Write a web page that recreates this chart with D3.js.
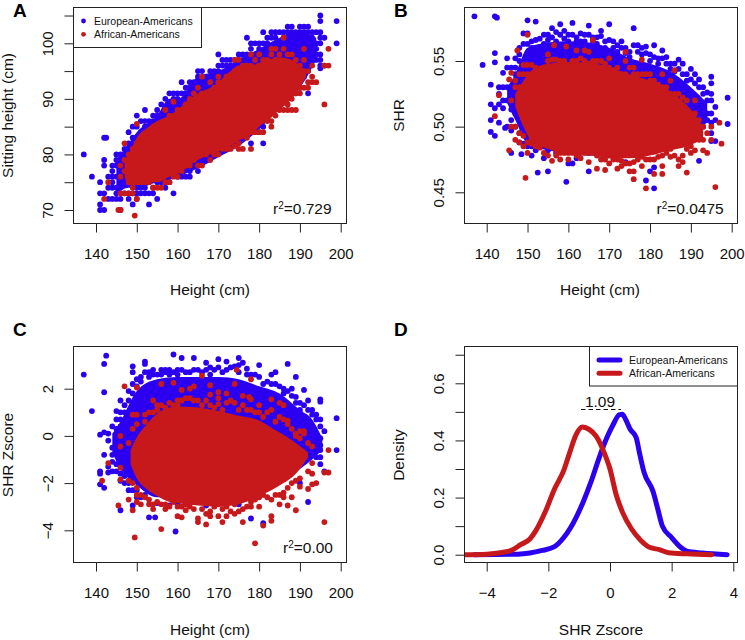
<!DOCTYPE html>
<html><head><meta charset="utf-8">
<script src="https://cdn.jsdelivr.net/npm/d3@7/dist/d3.min.js"></script>
<style>
html,body{margin:0;padding:0;background:#fff}
svg{display:block}
text{font-family:"Liberation Sans",Arial,sans-serif;fill:#111}
</style></head><body><svg id="c" width="745" height="640"></svg>
<script>
const seriesNames = ["European-Americans","African-Americans"];
const heightTicks = [140,150,160,170,180,190,200];
const sittingTicks = [70,75,80,85,90,95,100,105];
const shrTicks = [0.45,0.50,0.55];
const zTicks = [-4,-2,0,2];
const densityTicks = [0,0.1,0.2,0.3,0.4,0.5,0.6,0.7];
const zAxisTicks = [-4,-2,0,2,4];

// Solid core of each cloud, as [height, low, high]; the points below form its rim.
const aBodyEA = [[145,73,79],[148,74,82],[150,74,84],[155,75,87],[158,75.5,90],[160,76,90],[165,77.5,94],[170,79.5,95],[175,81.5,97],[180,84.5,99],[185,88.5,101],[190,92,102],[194,97,101]];
const aBodyAA = [[147,76,79],[148,74.5,80],[150,74.5,83],[153,75,85],[155,75,86],[158,76,87],[160,76.5,88],[163,78,90],[165,79,91],[168,80,92],[170,80.5,93],[173,81.5,95],[175,82.5,96],[178,83.5,96],[180,85,96.5],[182,86,97],[185,88,97.5],[188,90,97],[190,92,96],[191.5,94,95]];
// Points by height column: [height, value, value, ...]
const aPointsEA = [[137,80],[139,76],[141,75,73,71,70],[142,83,79,78,73,70],[142.5,83],[143,74,72,76],[144,78,77,76,75,74,72],[145,80,79,78,76,74,73,72],[146,80,79,77,75,74,72,70],[147,81,79,75,73],[148,84,82,80,78,75,73,72],[149,85,83,81,75,73,71],[150,87,85,83,74,73,72],[151,86,84,74,73],[152,88,86,85,74,73],[153,86,85,75,73,71],[154,87,86,74,73],[155,88,87,75,72],[156,89,87,75],[157,90,88,75,74],[158,91,89,76,75],[159,91,90,73],[160,91,90,76],[161,93,91,77,76],[162,92,91,76],[163,93,92,77,76],[164,93,92,78],[165,95,94,78,77],[166,95,93],[167,94,93,79],[168,94,95],[169,95,94],[170,98,96,95],[171,96,97],[172,97,96],[173,96,97],[174,97,96],[175,98,97],[176,98,97],[177,101,98],[178,100,99,86,82],[179,100,98],[180,100,99,84],[181,102,100,85,82],[182,100,101],[183,102,101],[184,102,101],[185,102,100],[186,102,101],[187,103,102],[188,103,102],[189,102,101,91],[190,103,102,92],[191,103,102,94],[192,103,102,96,95,91],[193,102,101,97],[194,102,100,99,98,97],[195,105,104,102,101,100,98,97,96,95.5],[196,101,96],[199,104,100]];
const aPointsAA = [[142,72],[143,75],[145.5,70],[146,78,76,73,70],[147,82,79,77,73],[148,80,78,75,73],[149,81,79,74,73],[149.5,69],[150,85.5,82,80,75,72],[151,82,75],[152,83,75],[153,84,83,75],[154,85,74],[155,85,74],[156,85.5,74],[157,88,86,75],[158,87,75],[159,89.5,87,76],[160,88,76],[161,88,77],[162,89,78],[163,90,78],[164,91,79],[165,92,78],[166,94,91,78],[167,91,80],[168,93,91,79],[169,92,80],[170,94,93,80],[171,92,81],[172,94,92,81],[173,94,81],[174,97,95,81.5],[175,97,95,82,81],[176,96,81],[177,96,83],[178,98,96,84,81],[179,97,84],[180,98,96,84],[181,97,84],[182,97,86],[183,99,98,86,85],[184,99,97,87],[185,98,88],[186,101,99,88],[187,98,89,88],[188,98,96,90,88],[189,97,91,88],[190,96,92,91],[191,99,97,95,92],[192,95,93,92],[193,96,94,93],[194,93],[196,96,89],[197,99,96]];

const bBodyEA = [[145,0.518,0.53],[147,0.505,0.54],[150,0.487,0.56],[155,0.482,0.564],[160,0.48,0.565],[165,0.478,0.564],[170,0.478,0.56],[175,0.478,0.552],[180,0.482,0.548],[185,0.488,0.542],[190,0.496,0.53],[194,0.503,0.518]];
const bBodyAA = [[147,0.515,0.525],[149,0.5,0.535],[151,0.489,0.543],[155,0.483,0.548],[160,0.48,0.549],[165,0.479,0.549],[170,0.476,0.545],[175,0.476,0.54],[180,0.478,0.535],[185,0.482,0.527],[190,0.486,0.513],[193,0.492,0.5]];
const bPointsEA = [[137,0.584],[139,0.547],[141,0.532,0.517,0.505,0.496],[142,0.584,0.556,0.549,0.514,0.493],[142.5,0.583],[143,0.53,0.525,0.517,0.503],[144,0.541,0.53,0.52,0.514],[144.5,0.499],[145,0.552,0.545,0.53,0.52,0.5],[146,0.545,0.53,0.52,0.513,0.505,0.497,0.48],[147,0.552,0.545,0.54,0.525,0.51,0.5],[148,0.56,0.555,0.55,0.53,0.515,0.495,0.488],[148.5,0.479],[149,0.571,0.563,0.5,0.487],[150,0.581,0.571,0.563,0.49,0.485],[151,0.565,0.56,0.485,0.478],[152,0.58,0.566,0.482],[152.5,0.465],[153,0.567,0.56],[154,0.57,0.563,0.476],[155,0.57,0.566,0.482,0.466],[156,0.575,0.568],[157,0.572,0.565,0.48],[158,0.578,0.57],[159,0.573,0.567],[159.5,0.458],[160,0.57,0.565,0.472],[161,0.579,0.57,0.472],[162,0.568,0.565,0.476],[163,0.571,0.565],[164,0.57,0.565],[165,0.577,0.57,0.48,0.466],[166,0.568,0.565],[167,0.568,0.563],[168,0.573,0.569],[169,0.565,0.56],[170,0.578,0.566],[171,0.565,0.56,0.48],[172,0.562,0.557],[173,0.565,0.56],[174,0.56,0.556,0.473],[175,0.557,0.553],[176,0.575,0.562],[177,0.562,0.557],[178,0.56,0.555],[179,0.561,0.556,0.481,0.459],[180,0.555,0.55,0.466],[181,0.562,0.553,0.469,0.453],[182,0.552,0.548],[183,0.558,0.552],[184,0.553,0.548],[185,0.548,0.544],[186,0.548,0.542],[187,0.551,0.544],[188,0.548,0.54],[189,0.54,0.535],[190,0.544,0.536,0.495],[191,0.54,0.533,0.495],[192,0.536,0.53,0.5,0.495,0.474],[193,0.53,0.525,0.505,0.5],[194,0.526,0.52,0.51,0.505],[195,0.538,0.533,0.525,0.52,0.51,0.503,0.495,0.489],[196,0.515,0.505,0.489],[199,0.522,0.502]];
const bPointsAA = [[142,0.508],[143,0.524],[145.5,0.536,0.482],[146,0.541,0.52,0.5],[147,0.535,0.53,0.5,0.49],[147.5,0.558],[148,0.54,0.53,0.495,0.488],[149,0.547,0.54,0.493,0.485],[149.5,0.461],[150,0.57,0.547,0.54,0.488,0.48],[151,0.547,0.54,0.491,0.487],[152,0.545,0.538,0.485],[153,0.54,0.484],[154,0.545,0.48],[155,0.555,0.55,0.545,0.478],[156,0.551,0.545,0.474],[156.5,0.562],[157,0.551,0.482,0.478],[158,0.55,0.48,0.475],[159,0.55,0.48],[159.5,0.561],[160,0.547,0.48,0.475],[161,0.55,0.545,0.48],[162,0.558,0.55,0.478],[163,0.552,0.48,0.476],[164,0.558,0.55,0.48],[165,0.557,0.548,0.48,0.473],[166,0.566,0.55,0.48],[167,0.55,0.545,0.478,0.468],[168,0.55,0.545,0.475],[169,0.548,0.475,0.467],[170,0.552,0.545,0.478,0.472],[171,0.543,0.475],[172,0.545,0.54,0.475,0.468],[173,0.54,0.474,0.47],[174,0.557,0.55,0.54,0.472],[175,0.545,0.472,0.466],[176,0.545,0.54,0.473,0.466,0.46],[177,0.54,0.475],[178,0.551,0.54,0.477,0.47],[179,0.54,0.475,0.453],[180,0.54,0.535,0.475],[181,0.535,0.475,0.464],[182,0.532,0.477],[183,0.54,0.53,0.478,0.47,0.464],[184,0.53,0.48],[185,0.535,0.525,0.483,0.477],[186,0.543,0.525,0.478],[187,0.525,0.475,0.47],[188,0.522,0.478,0.473],[189,0.52,0.483,0.465],[190,0.51,0.485,0.48],[191,0.52,0.51,0.49,0.482],[192,0.505,0.49],[193,0.5,0.49,0.482],[194,0.495,0.48],[195,0.5,0.49],[196,0.454],[197,0.503],[197.5,0.487]];

const cBodyEA = [[144,-0.7,0.1],[146,-1.4,0.6],[148,-1.8,1.3],[150,-2.1,1.9],[155,-2.6,2.4],[160,-2.6,2.5],[165,-2.6,2.5],[170,-2.6,2.5],[175,-2.6,2.4],[180,-2.3,2.1],[185,-1.9,1.8],[190,-1.4,1.1],[193,-1,0.7],[195.5,-0.6,-0.1]];
const cBodyAA = [[148.5,-1.2,-0.6],[150,-1.8,-0.05],[152,-2.2,0.4],[155,-2.55,0.95],[158,-2.8,1.2],[160,-2.85,1.25],[165,-2.95,1.2],[170,-3,1.05],[175,-2.9,0.85],[180,-2.55,0.65],[183,-2.3,0.35],[186,-2,0.05],[189,-1.6,-0.3],[192,-0.9,-0.7]];
const cPointsEA = [[137,2.6],[139,1.05],[141,0.05,-1.5,-1.6,-2.05],[142,3.05,1.85,0.15,-0.8,-2.2],[142.5,3.4],[143,0.1,-0.2,-1.3,-1.55],[144,0.4,-0.5,-0.8,-1.1,-1.5],[145,1.05,0.7,0.3,-0.1,-1.2,-1.5],[146,1.5,1,0.7,0.4,-1.6,-1.9,-3.15],[147,1.3,1,-1.7,-2],[148,1.9,1.5,-2,-2.3],[149,2.95,2.7,2.2,1.8,-2.3,-2.95],[150,2.4,2.1,-2.3,-2.6],[151,2.5,2.3,-2.6],[152,3.15,3.05,2.7,-2.2,-2.5],[153,2.7,2.5,-3.45],[154,2.8,2.6],[154.5,-3.45],[155,2.6,-2.85],[156,2.8,2.6],[157,2.8,2.7],[158,2.8,2.6,-2.95],[159,3.45,2.7],[159.5,-4.05],[160,2.8,2.6,-2.85],[161,3.3,2.8],[162,2.7,-2.8],[163,2.7],[164,3.3,2.8],[165,2.8],[166,2.7],[167,3.1,2.8,-2.95],[168,2.9,2.6],[169,2.8],[170,3.25,2.9],[171,2.7],[172,3.15,2.8],[173,2.9],[174,2.95],[175,3.3,3,2.7,-2.9],[176,3.1],[177,2.85,2.6],[178,2.6,-3.5],[179,2.6],[180,3,2.5],[181,2.2,-3.7],[182,2.3],[183,2.6,2.2],[184,2.7,2.2],[185,2.1],[186,2,1.8],[187,3.05,1.9],[188,2,1.7],[189,2.5,1.65,1.4],[190,1.4,1.1,-2],[191,1.95,1.3],[192,1.5,1.1,-2.8],[193,1.1,0.9],[194,0.9,0.7,-0.4,-0.9],[195,1.55,1.45,0.7,0.4,-0.1,-0.4,-0.6,-0.9,-1.2],[196,0.2,-1.5],[199,0.75,-0.6]];
const cPointsAA = [[141.5,-1.9],[143,-1.15],[145.5,-2.95],[146,0,-0.45,-1.35,-1.85],[147,2.1],[148,-0.3,-1.9,-2.7],[149,0.9,0.3,-2,-3.15],[149.5,-4.3],[150,2.05,0.9,0.5,-2.2,-2.5,-2.8],[151,-2.5,-2.9],[152,0.9,0.6,-2.6],[153,1,-2.7,-2.9],[154,1.5,1,-2.9,-3.1],[155,1.3,1.1,-2.8],[156,2.2,1.3,-2.9,-3.95],[157,1.2,-2.9,-3.1],[158,1.4,-3],[159,2.25,1.3,-2.8],[160,1.5,1.3,-3,-3.4],[161,1.95,1.5,-3,-3.45],[162,1.6,-2.9,-3.15],[163,2,1.6,-3],[164,2.1,1.5,-3.1],[165,1.5,-3.5,-3.65],[166,2.55,1.3,-3.1],[167,1.5,-3.3,-3.75],[168,2.15,1.75,1.3,-3.2,-3.4],[169,1.2,-3],[170,1.85,1.6,1.35,-2.9,-3.4],[171,1.1,-3.1,-3.65],[172,1.8,1.4,-3,-3.4],[173,1.5,-3.2],[174,2.2,1.4,-2.9,-3.3],[174.5,2.8],[175,1.1,-3.2],[176,1.7,1.3,-3.1,-3.65],[177,1.1,-3],[177.5,1.65],[178,2.4,1.55,1.1,-2.8,-3],[179,1,-2.7,-4.55],[180,1.3,1,-2.6,-3],[181,0.8,-2.5,-3.8],[182,1,-2.6],[183,1.55,1.1,-2.7,-3.4,-3.6],[184,0.6,-2.5],[185,1.4,0.8,-2.5,-2.9],[186,1.3,0.7,-2.4,-2.6],[187,0.65,0.5,-2.2,-2.95],[188,0.3,-2,-2.6],[189,0.1,0,-1.9,-3.15],[190,0.2,-0.1,-1.8,-2.15],[191,0.2,0.1],[192,-0.3,-1.5,-2.25],[193,-0.45,-1.15,-1.6,-2.05],[194,-2],[196,-1.55,-3.65],[197,-0.6,-1.55]];

const dEAx = [-4.4,-3,-2.6,-2.2,-1.8,-1.5,-1.1,-0.85,-0.6,-0.35,-0.1,0.1,0.3,0.4,0.5,0.65,0.85,0.95,1.1,1.4,1.55,1.7,2,2.3,2.5,3,3.8];
const dEAy = [0,0.002,0.006,0.015,0.028,0.06,0.13,0.19,0.26,0.34,0.41,0.455,0.49,0.492,0.475,0.44,0.41,0.36,0.29,0.22,0.16,0.1,0.06,0.025,0.012,0.006,0];
const dAAx = [-4.75,-4,-3.5,-3.2,-2.9,-2.6,-2.4,-2.1,-1.8,-1.5,-1.3,-1.1,-0.9,-0.7,-0.45,-0.2,0,0.2,0.4,0.7,1,1.3,1.6,1.9,2.5,3.3];
const dAAy = [0,0.002,0.008,0.015,0.035,0.055,0.085,0.15,0.23,0.295,0.36,0.42,0.447,0.44,0.415,0.36,0.3,0.21,0.15,0.09,0.05,0.025,0.018,0.007,0.003,0];

const BLUE="#2b00f0", RED="#c7181c", INK="#222";
const svg=d3.select("#c");
const expand=rows=>rows.flatMap(r=>r.slice(1).map(v=>[r[0],v]));

function panel(o){
  const x=d3.scaleLinear().domain(o.xd).range(o.xr);
  const y=d3.scaleLinear().domain(o.yd).range(o.yr);
  const g=svg.append("g");
  const cid="clip"+o.letter;
  svg.append("clipPath").attr("id",cid).append("rect")
    .attr("x",o.box[0]).attr("y",o.box[1]).attr("width",o.box[2]-o.box[0]).attr("height",o.box[3]-o.box[1]);
  const plot=g.append("g").attr("clip-path",`url(#${cid})`);
  o.draw(plot,x,y);
  g.append("rect").attr("x",o.box[0]).attr("y",o.box[1]).attr("width",o.box[2]-o.box[0]).attr("height",o.box[3]-o.box[1])
    .attr("fill","none").attr("stroke",INK).attr("stroke-width",1);
  const ax=g.append("g").attr("transform",`translate(0,${o.box[3]})`)
    .call(d3.axisBottom(x).tickValues(o.xt).tickSize(9).tickSizeOuter(0).tickFormat(o.xf||d3.format("d")));
  ax.select(".domain").remove();
  ax.selectAll("line").attr("stroke",INK);
  ax.selectAll("text").attr("y",o.xlabY||35).attr("dy",0).attr("font-size",15).attr("font-family",null);
  const ay=g.append("g").attr("transform",`translate(${o.box[0]},0)`)
    .call(d3.axisLeft(y).tickValues(o.yt).tickSize(9).tickSizeOuter(0).tickFormat(o.yf));
  ay.select(".domain").remove();
  ay.selectAll("line").attr("stroke",INK);
  ay.selectAll("text").attr("transform","rotate(-90)").attr("x",0).attr("y",-21).attr("dy",0)
    .attr("text-anchor","middle").attr("font-size",15).attr("font-family",null);
  g.append("text").attr("x",o.xtitle[0]).attr("y",o.xtitle[1]).attr("text-anchor","middle").attr("font-size",15.5).text(o.xlab);
  g.append("text").attr("transform",`translate(${o.ytitle[0]},${o.ytitle[1]}) rotate(-90)`).attr("text-anchor","middle").attr("font-size",15.5).text(o.ylab);
  g.append("text").attr("x",o.lab[0]).attr("y",o.lab[1]).attr("font-size",19).attr("font-weight","bold").style("fill","#000").text(o.letter);
  if(o.r2){
    const t=g.append("text").attr("x",o.r2[0]).attr("y",o.r2[1]).attr("font-size",15.5);
    t.append("tspan").text("r");
    t.append("tspan").attr("dy",-5).attr("font-size",10).text("2");
    t.append("tspan").attr("dy",5).text("="+o.r2[2]);
  }
  return g;
}
function scatter(bodyEA,ptsEA,bodyAA,ptsAA){
  return (p,x,y)=>{
    const area=d3.area().x(d=>x(d[0])).y0(d=>y(d[1])).y1(d=>y(d[2])).curve(d3.curveMonotoneX);
    const layer=(body,rows,col)=>{
      p.append("path").datum(body).attr("d",area).attr("fill",col);
      p.append("g").selectAll("circle").data(expand(rows)).join("circle")
        .attr("cx",d=>x(d[0])).attr("cy",d=>y(d[1])).attr("r",2.9).attr("fill",col);
    };
    layer(bodyEA,ptsEA,BLUE);
    layer(bodyAA,ptsAA,RED);
  };
}
const tick10=d=>(d%10===0?d:"");
const hx=[140,200];
const gA=panel({letter:"A",xd:hx,xr:[96,340.7],yd:[70,100],yr:[210,43.3],box:[73.5,7.5,346.5,223.5],
  xt:heightTicks,yt:sittingTicks,yf:tick10,xlab:"Height (cm)",ylab:"Sitting height (cm)",xtitle:[210,295],ytitle:[13,115.5],lab:[13,17],r2:[273,214,"0.729"],
  draw:scatter(aBodyEA,aPointsEA,aBodyAA,aPointsAA)});
gA.append("rect").attr("x",73.5).attr("y",7.5).attr("width",128).attr("height",40).attr("fill","#fff").attr("stroke",INK);
seriesNames.forEach((n,i)=>{
  gA.append("circle").attr("cx",83.5).attr("cy",21+i*13.3).attr("r",2.4).attr("fill",i?RED:BLUE);
  gA.append("text").attr("x",94).attr("y",25+i*13.3).attr("font-size",10.5).text(n);
});
panel({letter:"B",xd:hx,xr:[486.7,731.7],yd:[0.45,0.55],yr:[192.3,61],box:[464.5,7.5,737.5,223.5],
  xt:heightTicks,yt:shrTicks,yf:d3.format(".2f"),xlab:"Height (cm)",ylab:"SHR",xtitle:[600,295],ytitle:[404,115.5],lab:[394,17],r2:[656.5,214,"0.0475"],
  draw:scatter(bBodyEA,bPointsEA,bBodyAA,bPointsAA)});
panel({letter:"C",xd:hx,xr:[96,340.7],yd:[-4,2],yr:[530.3,388.7],box:[73.5,346.5,346.5,562.5],
  xt:heightTicks,yt:zTicks,yf:d3.format("d"),xlab:"Height (cm)",ylab:"SHR Zscore",xtitle:[210,635],ytitle:[13,455],lab:[13,336],r2:[283,553,"0.00"],
  draw:scatter(cBodyEA,cPointsEA,cBodyAA,cPointsAA)});
const gD=panel({letter:"D",xd:[-4,4],xr:[486.7,733.3],yd:[0,0.6],yr:[554.7,383.3],box:[464.5,346.5,737.5,562.5],
  xt:zAxisTicks,yt:densityTicks,yf:d=>(Math.round(d*10)%2===0?d3.format(".1f")(d):""),xlab:"SHR Zscore",ylab:"Density",xtitle:[601,635],ytitle:[404,455],lab:[394,336],
  draw:(p,x,y)=>{
    const line=d3.line().x(d=>x(d[0])).y(d=>y(d[1])).curve(d3.curveMonotoneX);
    [[dEAx,dEAy,BLUE],[dAAx,dAAy,RED]].forEach(s=>
      p.append("path").datum(d3.zip(s[0],s[1])).attr("d",line).attr("fill","none").attr("stroke",s[2]).attr("stroke-width",5).attr("stroke-linecap","round").attr("stroke-linejoin","round"));
  }});
gD.append("rect").attr("x",589.5).attr("y",346.5).attr("width",148).attr("height",39.5).attr("fill","#fff").attr("stroke",INK);
seriesNames.forEach((n,i)=>{
  gD.append("line").attr("x1",599).attr("x2",620).attr("y1",360+i*13.3).attr("y2",360+i*13.3).attr("stroke",i?RED:BLUE).attr("stroke-width",5).attr("stroke-linecap","round");
  gD.append("text").attr("x",629).attr("y",364+i*13.3).attr("font-size",10.5).text(n);
});
gD.append("line").attr("x1",581).attr("x2",621).attr("y1",409.5).attr("y2",409.5).attr("stroke","#111").attr("stroke-width",1).attr("stroke-dasharray","4.5 3");
gD.append("text").attr("x",600).attr("y",407).attr("text-anchor","middle").attr("font-size",15.5).text("1.09");
</script></body></html>
